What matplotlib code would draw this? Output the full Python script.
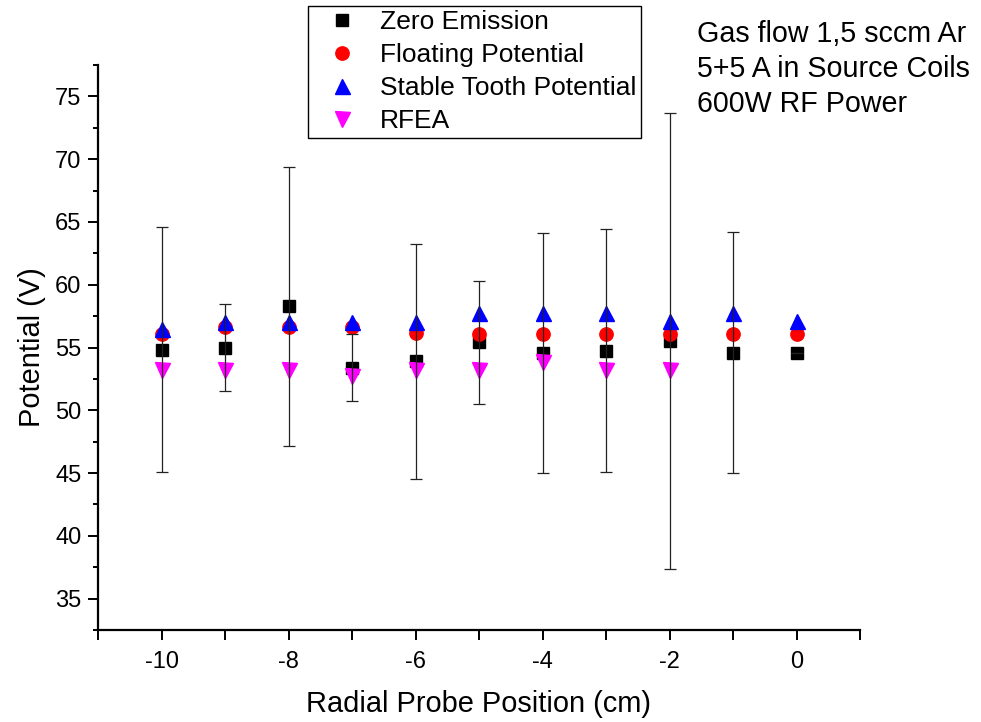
import matplotlib
matplotlib.use("Agg")
import matplotlib.pyplot as plt
from matplotlib.ticker import MultipleLocator

plt.rcParams['font.family'] = ['Liberation Sans', 'DejaVu Sans']
plt.rcParams['axes.unicode_minus'] = False

# Radial probe positions (cm)
position = [-10, -9, -8, -7, -6, -5, -4, -3, -2, -1, 0]

# Plasma potential from the zero-emission method, with its uncertainty
zero_emission = [54.84, 55.0, 58.27, 53.4, 53.9, 55.4, 54.55, 54.76, 55.5, 54.6, 54.6]
zero_emission_err = [9.77, 3.47, 11.12, 2.68, 9.35, 4.9, 9.58, 9.71, 18.17, 9.6, 0.0]

# Floating potential
floating = [56.1, 56.64, 56.64, 56.64, 56.16, 56.11, 56.11, 56.11, 56.11, 56.11, 56.11]

# Stable tooth potential
stable_tooth = [56.48, 57.07, 57.07, 57.07, 57.07, 57.73, 57.73, 57.73, 57.12, 57.73, 57.12]

# Retarding field energy analyser (measured at -10 .. -2 cm)
rfea_position = [-10, -9, -8, -7, -6, -5, -4, -3, -2]
rfea = [53.17, 53.17, 53.17, 52.74, 53.17, 53.17, 53.83, 53.17, 53.17]

conditions = "Gas flow 1,5 sccm Ar\n5+5 A in Source Coils\n600W RF Power"

fig = plt.figure(figsize=(9.81, 7.22), dpi=100)
ax = fig.add_axes([98 / 981, 1 - 630 / 722, (860 - 98) / 981, (630 - 65) / 722])

ax.plot(position, zero_emission, linestyle='none', marker='s', markersize=8.6,
        color='black', label='Zero Emission', zorder=3)
ax.plot(position, floating, linestyle='none', marker='o', markersize=9.6,
        color='#ff0000', label='Floating Potential', zorder=4)
ax.plot(position, stable_tooth, linestyle='none', marker='^', markersize=10.8,
        color='#0000ff', label='Stable Tooth Potential', zorder=5)
ax.plot(rfea_position, rfea, linestyle='none', marker='v', markersize=10.8,
        color='#ff00ff', label='RFEA', zorder=6)

# uncertainty of the zero-emission potential
ax.errorbar(position, zero_emission, yerr=zero_emission_err, fmt='none',
            ecolor='#222222', elinewidth=0.9, capsize=4, capthick=0.9, zorder=7)

ax.set_xlim(-11, 1)
ax.set_ylim(32.5, 77.5)
ax.xaxis.set_major_locator(MultipleLocator(2))
ax.xaxis.set_minor_locator(MultipleLocator(1))
ax.yaxis.set_major_locator(MultipleLocator(5))
ax.yaxis.set_minor_locator(MultipleLocator(2.5))

for side in ('top', 'right'):
    ax.spines[side].set_visible(False)
for side in ('left', 'bottom'):
    ax.spines[side].set_linewidth(1.6)

ax.tick_params(which='major', direction='out', length=7, width=1.4,
               labelsize=17, pad=5)
ax.tick_params(which='minor', direction='out', length=3.6, width=1.4)
ax.tick_params(axis='x', which='major', pad=8)
ax.tick_params(axis='x', which='minor', length=7)

ax.set_xlabel('Radial Probe Position (cm)', fontsize=20.9, labelpad=12)
ax.set_ylabel('Potential (V)', fontsize=20.9, labelpad=6.5)

leg = ax.legend(loc='upper left', bbox_to_anchor=(308 / 981, 1 - 6 / 722),
                bbox_transform=fig.transFigure, fontsize=19.0, numpoints=1,
                frameon=True, fancybox=False, framealpha=1, borderpad=0.17,
                labelspacing=0.34, handlelength=2.2, handletextpad=0.36,
                borderaxespad=0)
leg.get_frame().set_edgecolor('black')
leg.get_frame().set_linewidth(1.0)

fig.text(697 / 981, 1 - 20 / 722, conditions, fontsize=20.6, va='top', ha='left',
         linespacing=1.31)

fig.savefig('out.png', dpi=100)
